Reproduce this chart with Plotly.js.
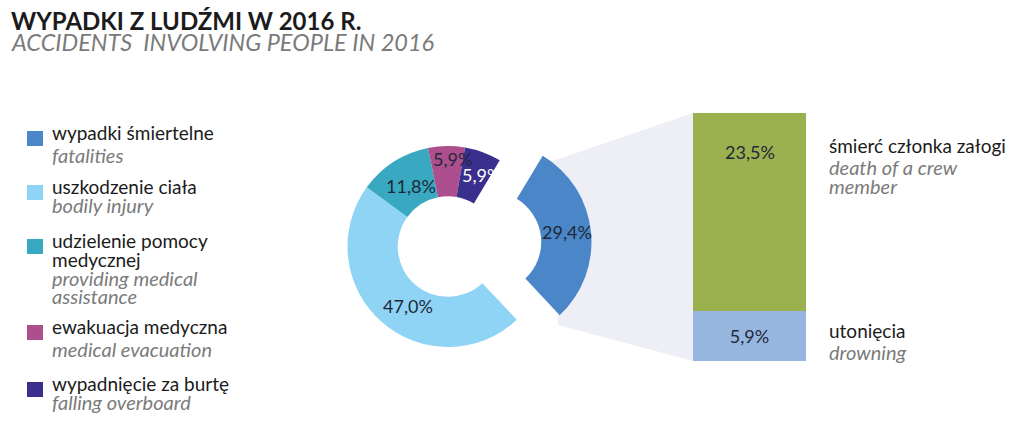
<!DOCTYPE html>
<html><head><meta charset="utf-8">
<script src="https://cdn.plot.ly/plotly-3.0.1.min.js"></script>
<style>html,body{margin:0;padding:0;background:#fff}#chart{width:1023px;height:448px}</style>
</head><body><div id="chart"></div>
<script>
// ---- data ----
const titlePL = 'WYPADKI Z LUDŹMI W 2016 R.';
const titleEN = 'ACCIDENTS  INVOLVING PEOPLE IN 2016';
const categoriesPL = ['wypadki śmiertelne', 'uszkodzenie ciała', 'udzielenie pomocy<br>medycznej', 'ewakuacja medyczna', 'wypadnięcie za burtę'];
const categoriesEN = ['fatalities', 'bodily injury', 'providing medical<br>assistance', 'medical evacuation', 'falling overboard'];
const shares = [29.4, 47.0, 11.8, 5.9, 5.9];
const fatalPL = ['utonięcia', 'śmierć członka załogi'];
const fatalEN = ['drowning', 'death of a crew<br>member'];
const fatalShares = [5.9, 23.5];

// ---- styles ----
const FONT = 'Lato, "Open Sans", sans-serif';
const DARK = '#1b1b1b';
const GREY = '#7b7b7b';
const LABEL = '#1e2838';
const pieColors = ['#4a86c8', '#8fd4f4', '#39a9c2', '#ad4f8e', '#3b2f8e'];
const pieTextColors = [LABEL, LABEL, LABEL, LABEL, '#ffffff'];
const barColors = ['#96b6e0', '#9bb14f'];
const fmt = v => v.toFixed(1).replace('.', ',') + '%';

const W = 1023, H = 448;
const px = x => x / W, py = y => 1 - y / H;

// pie geometry
const R = 100.5, PULL = 0.43, CX = 448, CY = 246.5;
const half = R * (1 + PULL);

const pie = {
  type: 'pie', values: shares, labels: categoriesEN.map(s => s.replace('<br>', ' ')),
  textinfo: 'none',
  marker: {colors: pieColors, line: {width: 0}},
  hole: 0.5, sort: false, direction: 'clockwise', rotation: 31,
  pull: [PULL, 0, 0, 0, 0],
  domain: {x: [px(CX - half), px(CX + half)], y: [py(CY + half), py(CY - half)]},
  showlegend: false, hoverinfo: 'label+percent'
};

const bars = fatalShares.map((v, i) => ({
  type: 'bar', x: ['fatal'], y: [v], name: fatalEN[i].replace('<br>', ' '),
  marker: {color: barColors[i], line: {width: 0}},
  text: [fmt(v)], textposition: i === 0 ? 'inside' : 'none',
  insidetextanchor: 'middle',
  textfont: {family: FONT, size: 18, color: LABEL},
  showlegend: false, hoverinfo: 'name+y'
}));
const fatalTotal = fatalShares.reduce((a, b) => a + b, 0);

const ann = [];
function txt(x, base, text, size, color, italic, weight) {
  ann.push({xref: 'paper', yref: 'paper', x: px(x), y: py(base - 0.32 * size),
    xanchor: 'left', yanchor: 'middle', showarrow: false, text: italic ? '<i>' + text + '</i>' : text,
    font: {family: FONT, size: size, color: color, weight: weight || 400}});
}
txt(9, 28, titlePL, 24, DARK, false, 700);
txt(9, 50, titleEN, 23.5, GREY, true);

// legend
const legBase = [[139], [193], [247, 265.7], [333], [390]];
const legEN = [[161.7], [211.7], [284, 302.5], [355], [408]];
const shapes = [];
categoriesPL.forEach((c, i) => {
  c.split('<br>').forEach((l, j) => txt(50, legBase[i][j], l, 19, DARK, false));
  categoriesEN[i].split('<br>').forEach((l, j) => txt(50, legEN[i][j], l, 20, GREY, true));
  const b = legBase[i][0];
  shapes.push({type: 'rect', xref: 'paper', yref: 'paper', x0: px(27), x1: px(43), y0: py(b + 7), y1: py(b - 8),
    fillcolor: pieColors[i], line: {width: 0}});
});

// pie value labels
const pieLabelPos = [[567, 232], [408, 306], [411, 186], [452, 159], [481, 175]];
shares.forEach((v, i) => ann.push({xref: 'paper', yref: 'paper', x: px(pieLabelPos[i][0]), y: py(pieLabelPos[i][1]),
  xanchor: 'center', yanchor: 'middle', showarrow: false, text: fmt(v),
  font: {family: FONT, size: 18, color: pieTextColors[i]}}));

// right labels
const rightBase = [[337], [152]];
const rightENBase = [[358], [173, 192]];
fatalPL.forEach((c, i) => {
  txt(827, rightBase[i][0], c, 19, DARK, false);
  fatalEN[i].split('<br>').forEach((l, j) => txt(827, rightENBase[i][j], l, 20, GREY, true));
});
// top bar label
ann.push({xref: 'x', yref: 'y', x: 'fatal', y: fatalTotal, yshift: -39, xanchor: 'center', yanchor: 'middle',
  showarrow: false, text: fmt(fatalShares[1]), font: {family: FONT, size: 18, color: LABEL}});

// connector band
const c = [[544, 164], [693, 113], [693, 361], [558, 325], [556, 240]];
shapes.push({type: 'path', xref: 'paper', yref: 'paper', layer: 'below',
  path: 'M' + c.map(p => px(p[0]) + ',' + py(p[1])).join(' L') + ' Z',
  fillcolor: '#eeeef7', line: {width: 0}});

const layout = {
  width: W, height: H, margin: {l: 0, r: 0, t: 0, b: 0},
  paper_bgcolor: '#ffffff', plot_bgcolor: 'rgba(0,0,0,0)',
  barmode: 'stack', bargap: 0,
  xaxis: {domain: [px(693), px(806)], range: [-0.5, 0.5], visible: false, fixedrange: true},
  yaxis: {domain: [py(361), py(113)], range: [0, fatalTotal], visible: false, fixedrange: true},
  annotations: ann, shapes: shapes, font: {family: FONT}
};
Plotly.newPlot('chart', [pie].concat(bars), layout, {displayModeBar: false, staticPlot: true});
</script></body></html>
